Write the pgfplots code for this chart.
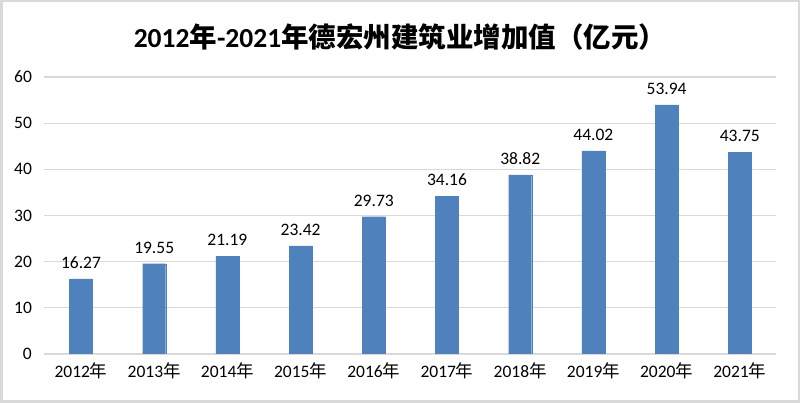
\documentclass[border=0pt]{standalone}
\usepackage{fontspec}
\setmainfont{Carlito}
\newfontfamily\cjk{Noto Sans CJK SC}
\usepackage{pgfplots}
\pgfplotsset{compat=1.18}
\definecolor{barblue}{HTML}{4F81BD}
\definecolor{gridgray}{HTML}{D9D9D9}
\newcommand{\nian}{{\cjk 年}}
\begin{document}
\begin{tikzpicture}
\draw[gridgray, line width=2.5pt] (1.25pt,1.25pt) rectangle (798.75pt,401.75pt);
\node[font=\fontsize{27.5}{32}\selectfont\bfseries] at (400pt,366pt)
  {2012{\cjk\bfseries 年}-2021{\cjk\bfseries 年德宏州建筑业增加值（亿元）}};
\begin{axis}[
  at={(44.4pt,49pt)}, anchor=south west,
  scale only axis, width=732pt, height=277pt,
  xmin=-0.5, xmax=9.5, ymin=0, ymax=60,
  ytick={0,10,...,60},
  xtick=data,
  xticklabels={2012\nian,2013\nian,2014\nian,2015\nian,2016\nian,2017\nian,2018\nian,2019\nian,2020\nian,2021\nian},
  axis line style={draw=none},
  major tick length=0pt,
  ymajorgrids, grid style={gridgray, line width=1.3pt},
  tick label style={font=\fontsize{17.5}{20}\selectfont, text=black},
  /pgf/number format/assume math mode=true,
  yticklabel style={xshift=-9pt},
  xticklabel style={yshift=-5pt},
  nodes near coords,
  nodes near coords style={font=\fontsize{17.5}{20}\selectfont, text=black, yshift=7pt,
    /pgf/number format/fixed, /pgf/number format/precision=2,
    /pgf/number format/fixed zerofill, /pgf/number format/assume math mode=true},
]
\addplot[ybar, bar width=23pt, fill=barblue, draw=barblue] coordinates {
  (0,16.27) (1,19.55) (2,21.19) (3,23.42) (4,29.73)
  (5,34.16) (6,38.82) (7,44.02) (8,53.94) (9,43.75)
};
\end{axis}
\end{tikzpicture}
\end{document}
